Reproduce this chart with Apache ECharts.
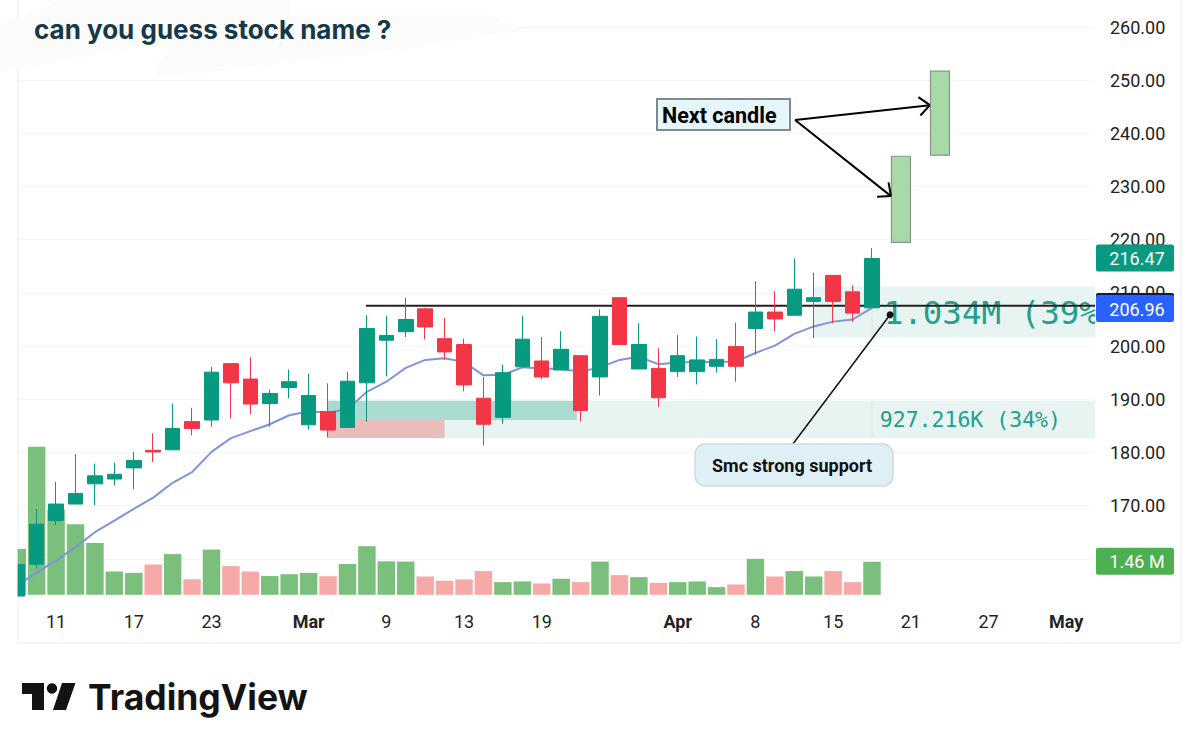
<!DOCTYPE html>
<html>
<head>
<meta charset="utf-8">
<title>can you guess stock name ?</title>
<style>
  html, body { margin: 0; padding: 0; background: #fff; }
  #chart { width: 1199px; height: 752px; }
</style>
<script src="https://cdn.jsdelivr.net/npm/echarts@6/dist/echarts.min.js"></script>
</head>
<body>
<div id="chart"></div>
<script>
// candles, one per trading day, index = position on the time scale
var opens = [153, 159, 167.2, 170.3, 174.1, 175, 177.1, 180.4, 180.5, 185.8, 186.1, 196.7, 193.8, 189.2, 192.2, 185.2, 187.7, 184.7, 193.1, 201.1, 202.7, 207, 201.4, 200.3, 190.2, 186.6, 196.1, 197.2, 195.5, 198.2, 194.2, 209.1, 195.7, 195.8, 195.2, 195.2, 196.2, 199.9, 203.3, 206.4, 205.8, 208.4, 213.3, 210.2, 207.2];
var closes = [158.9, 166.5, 170.3, 172.3, 175.6, 175.9, 178.5, 180.1, 184.5, 184.5, 195.1, 193.1, 189.1, 191.1, 193.3, 190.7, 184.2, 193.4, 203.3, 202, 205, 203.6, 198.9, 192.7, 185.3, 195, 201.3, 194.2, 199.4, 187.9, 205.6, 200.3, 200.3, 190.3, 198.2, 197.4, 197.5, 196.2, 206.4, 205.1, 210.7, 209.1, 208.4, 206.2, 216.47];
var lows = [153, 158.2, 166.3, 170.3, 170.1, 173.8, 173.1, 178.2, 180.5, 183.2, 184.8, 186.4, 187.2, 184.8, 190.2, 184.3, 182.8, 184.7, 185.8, 194.3, 201.7, 201.3, 197.4, 191.5, 181.3, 185.4, 196.1, 193.8, 195.5, 185.8, 190.7, 200.3, 195.7, 188.6, 194.2, 192.8, 195, 193.3, 198.4, 202.8, 205.8, 201.5, 204.3, 204.5, 207.2];
var highs = [158.9, 169.4, 174.5, 179.7, 177.9, 178.1, 180.1, 183.6, 189.2, 188.4, 196.1, 196.7, 197.9, 191.8, 195.6, 194.8, 193, 195.2, 205.8, 205.7, 209.1, 207.2, 205.3, 201.4, 194.2, 196.5, 205.7, 201.7, 202.8, 198.2, 206.9, 209.1, 204.3, 199.6, 202.1, 201.8, 201.3, 204.4, 212.2, 210.3, 216.5, 213.8, 213.3, 211.4, 218.4];
var volumes = [2.03, 6.54, 3.77, 3.12, 2.29, 1.03, 0.97, 1.34, 1.8, 0.69, 2, 1.27, 1.03, 0.83, 0.91, 0.97, 0.82, 1.36, 2.15, 1.48, 1.47, 0.81, 0.62, 0.68, 1.05, 0.56, 0.59, 0.5, 0.71, 0.56, 1.47, 0.87, 0.78, 0.53, 0.56, 0.59, 0.34, 0.46, 1.59, 0.81, 1.05, 0.81, 1.05, 0.56, 1.46];
var emaValues = [155, 157.4, 159.7, 162.2, 165, 167.2, 169.4, 171.5, 174.3, 176.3, 180.1, 182.7, 184, 185.3, 187, 187.7, 187.5, 188.1, 191.4, 193.3, 195.9, 197.4, 197.7, 197, 194.5, 194.6, 196, 195.8, 195.7, 195.2, 196, 197.4, 198, 196.6, 196.9, 197, 197, 197.1, 198.7, 200.1, 202.3, 203.7, 204.6, 205, 207.2];

// time scale labels
var tickIndices = [2, 6, 10, 15, 19, 23, 27, 34, 38, 42, 46, 50, 54];
var tickLabels = ['11', '17', '23', 'Mar', '9', '13', '19', 'Apr', '8', '15', '21', '27', 'May'];

// drawn annotations, in bar index / price
var zoneStart = [16, 41, 16, 16];
var zoneEnd = [55.48, 55.48, 28.8, 22];
var zoneLow = [182.7, 201.6, 186.1, 182.7];
var zoneHigh = [189.7, 211.2, 189.7, 186.1];
var zoneText = ['927.216K (34%)', '1.034M (39%)'];
var zoneTextX = [44.4, 44.6];
var zoneTextY = [186.2, 206.3];
var levelStart = 17.95;
var levelEnd = 55.48;
var levelPrice = 207.6;
var nextCandleX = [45.49, 47.5];
var nextCandleLow = [219.5, 235.9];
var nextCandleHigh = [235.7, 251.7];
var arrowStart = [40.04, 242.5];
var arrowTipX = [46.98, 44.98];
var arrowTipY = [245.3, 228.2];
var supportStart = [39.93, 181.6];
var supportEnd = [44.93, 205.9];
var priceTags = [216.47, 206.96];
var volumeTag = 1.46;

var GREEN = '#089981';
var RED = '#f23645';
var zoneColors = ['#e8f4f2', '#e8f4f2', '#a9dbd0', '#eabcbc'];
var tagColors = [GREEN, '#2962ff'];
var FONT = 'Roboto, sans-serif';
var MONO = '"DejaVu Sans Mono", monospace';

var candleData = opens.map(function(o, i) { return [i, o, closes[i], lows[i], highs[i]]; });
var volumeData = volumes.map(function(v, i) {
  return {
    value: [i, v],
    itemStyle: { color: closes[i] >= opens[i] ? '#7ac07c' : '#f7a9a7' }
  };
});

function tagShape(params, api, label, color, edge) {
  var grid = params.coordSys;
  var y = api.coord([0, label])[1];
  var children = [
    { type: 'rect', shape: { x: grid.x + grid.width + 1, y: y - 14, width: 78, height: 27, r: 2 }, style: { fill: color } },
    { type: 'text', x: grid.x + grid.width + 42, y: y, style: {
      text: label === volumeTag ? label.toFixed(2) + ' M' : label.toFixed(2),
      fill: '#fff', font: '18px ' + FONT, align: 'center', verticalAlign: 'middle'
    } }
  ];
  if (edge) {
    children.unshift({ type: 'rect', shape: { x: grid.x + grid.width + 1, y: y - 16, width: 78, height: 6, r: 2 }, style: { fill: edge } });
  }
  return { type: 'group', children: children };
}

var chart = echarts.init(document.getElementById('chart'), null, { renderer: 'svg' });
chart.setOption({
  animation: false,
  backgroundColor: '#fff',
  grid: { left: 18, right: 104, top: 27, height: 585, containLabel: false },
  xAxis: {
    type: 'value',
    min: 0.04,
    max: 55.48,
    splitLine: { show: false },
    axisLine: { show: false },
    axisTick: { show: false },
    axisLabel: {
      customValues: tickIndices,
      margin: 0,
      color: '#1f2329',
      fontFamily: FONT,
      fontSize: 18,
      formatter: function(value) {
        var label = tickLabels[tickIndices.indexOf(value)];
        return /[a-z]/.test(label) ? '{month|' + label + '}' : label;
      },
      rich: { month: { fontFamily: FONT, fontSize: 18, fontWeight: 'bold', color: '#1f2329' } }
    }
  },
  yAxis: [{
    type: 'value',
    position: 'right',
    min: 150,
    max: 260,
    interval: 10,
    axisLine: { show: false },
    axisTick: { show: false },
    splitLine: { showMinLine: false, lineStyle: { color: '#f5f6f7' } },
    axisLabel: {
      showMinLabel: false,
      margin: 15,
      color: '#222',
      fontFamily: FONT,
      fontSize: 18,
      formatter: function(value) { return value.toFixed(2); }
    }
  }, {
    type: 'value',
    show: false,
    min: -0.76,
    max: 25.1,
    splitLine: { show: false }
  }],
  series: [
    {
      type: 'bar',
      yAxisIndex: 1,
      data: volumeData,
      barWidth: 17.5,
      z: 1
    },
    {
      type: 'custom',
      clip: true,
      z: 2,
      data: zoneStart.map(function(s, i) { return [i]; }),
      renderItem: function(params, api) {
        var i = params.dataIndex;
        var a = api.coord([zoneStart[i], zoneHigh[i]]);
        var b = api.coord([zoneEnd[i], zoneLow[i]]);
        var children = [{
          type: 'rect',
          shape: { x: a[0], y: a[1], width: b[0] - a[0], height: b[1] - a[1] },
          style: { fill: zoneColors[i] }
        }];
        if (i < 2) {
          var divider = api.coord([44, 0])[0];
          children.push({
            type: 'line',
            shape: { x1: divider, y1: a[1], x2: divider, y2: b[1] },
            style: { stroke: '#d5e9e5', lineWidth: 1 }
          });
          var t = api.coord([zoneTextX[i], zoneTextY[i]]);
          children.push({
            type: 'text', x: t[0], y: t[1], z2: 5,
            style: {
              text: zoneText[i], fill: '#23a08b',
              font: (i === 0 ? 21.5 : 32.5) + 'px ' + MONO,
              verticalAlign: 'middle'
            }
          });
        }
        return { type: 'group', children: children };
      }
    },
    {
      type: 'custom',
      clip: true,
      z: 3,
      data: [[levelStart, levelPrice]],
      renderItem: function(params, api) {
        var a = api.coord([levelStart, levelPrice]);
        var b = api.coord([levelEnd, levelPrice]);
        return { type: 'line', shape: { x1: a[0], y1: a[1], x2: b[0], y2: b[1] }, style: { stroke: '#222', lineWidth: 2 } };
      }
    },
    {
      type: 'line',
      data: emaValues.map(function(v, i) { return [i, v]; }),
      showSymbol: false,
      lineStyle: { color: '#7f95d8', width: 2 },
      z: 4
    },
    {
      type: 'candlestick',
      data: candleData,
      encode: { x: 0, y: [1, 2, 3, 4] },
      barWidth: 15,
      itemStyle: { color: GREEN, color0: RED, borderColor: GREEN, borderColor0: RED, borderWidth: 1 },
      z: 5
    },
    {
      type: 'custom',
      z: 6,
      data: nextCandleX.map(function(x, i) { return [x, nextCandleLow[i], nextCandleHigh[i]]; }),
      renderItem: function(params, api) {
        var a = api.coord([api.value(0), api.value(2)]);
        var b = api.coord([api.value(0), api.value(1)]);
        return {
          type: 'rect',
          shape: { x: a[0] - 9.5, y: a[1], width: 19, height: b[1] - a[1] },
          style: { fill: '#a9d8a9', stroke: '#84958a', lineWidth: 1.2 }
        };
      }
    },
    {
      type: 'custom',
      z: 7,
      data: arrowTipX.map(function(x, i) { return [x, arrowTipY[i]]; }),
      renderItem: function(params, api) {
        var from = api.coord(arrowStart);
        var tip = api.coord([api.value(0), api.value(1)]);
        var angle = Math.atan2(tip[1] - from[1], tip[0] - from[0]);
        var style = { stroke: '#000', lineWidth: 2 };
        var heads = [0.72, -0.72].map(function(d) {
          return {
            type: 'line',
            shape: { x1: tip[0], y1: tip[1], x2: tip[0] - 14 * Math.cos(angle + d), y2: tip[1] - 14 * Math.sin(angle + d) },
            style: style
          };
        });
        return {
          type: 'group',
          children: [{ type: 'line', shape: { x1: from[0], y1: from[1], x2: tip[0], y2: tip[1] }, style: style }].concat(heads)
        };
      }
    },
    {
      type: 'custom',
      z: 7,
      data: [supportEnd],
      renderItem: function(params, api) {
        var from = api.coord(supportStart);
        var to = api.coord(supportEnd);
        return {
          type: 'group',
          children: [
            { type: 'line', shape: { x1: from[0], y1: from[1], x2: to[0], y2: to[1] }, style: { stroke: '#111', lineWidth: 1.5 } },
            { type: 'circle', shape: { cx: to[0], cy: to[1], r: 3.5 }, style: { fill: '#111' } }
          ]
        };
      }
    },
    {
      type: 'custom',
      z: 8,
      clip: false,
      data: priceTags.map(function(p) { return [p]; }),
      renderItem: function(params, api) {
        var i = params.dataIndex;
        return tagShape(params, api, priceTags[i], tagColors[i], i === 1 ? '#0b1a4a' : null);
      }
    },
    {
      type: 'custom',
      z: 8,
      clip: false,
      yAxisIndex: 1,
      data: [[volumeTag]],
      renderItem: function(params, api) {
        return tagShape(params, api, volumeTag, '#4caf50', null);
      }
    }
  ],
  graphic: [
    // chart frame
    { type: 'line', z: -1, silent: true, shape: { x1: 18, y1: 0, x2: 18, y2: 643 }, style: { stroke: '#f1f2f3', lineWidth: 1.5 } },
    { type: 'line', z: -1, silent: true, shape: { x1: 18, y1: 643, x2: 1181, y2: 643 }, style: { stroke: '#f1f2f3', lineWidth: 1.5 } },
    { type: 'line', z: -1, silent: true, shape: { x1: 1181, y1: 0, x2: 1181, y2: 643 }, style: { stroke: '#f1f2f3', lineWidth: 1.5 } },
    // first bar is cut by the chart's left edge
    { type: 'rect', z: 9, silent: true, shape: { x: 0, y: 530, width: 17.5, height: 80 }, style: { fill: '#fff' } },
    // smear behind the title
    { type: 'polygon', z: 20, silent: true, shape: { points: [[0, 25], [60, 0], [290, 0], [290, 20], [120, 50], [0, 72]] }, style: { fill: '#fcfcfc' } },
    { type: 'polygon', z: 20, silent: true, shape: { points: [[155, 70], [170, 40], [300, 15], [490, 15], [525, 30], [400, 50], [160, 78]] }, style: { fill: '#fcfcfc' } },
    { type: 'text', z: 21, x: 34, y: 29, style: { text: 'can you guess stock name ?', fill: '#16394a', font: 'bold 26px Inter, sans-serif', verticalAlign: 'middle' } },
    // callouts
    { type: 'rect', z: 21, shape: { x: 657, y: 99, width: 133, height: 31 }, style: { fill: '#e6f6fb', stroke: '#7f8a8c', lineWidth: 2 } },
    { type: 'text', z: 22, x: 662, y: 115, style: { text: 'Next candle', fill: '#000', font: 'bold 21.5px ' + FONT, verticalAlign: 'middle' } },
    { type: 'rect', z: 21, shape: { x: 695, y: 444, width: 198, height: 42, r: 10 }, style: { fill: '#def0f5', stroke: '#cfdcdf', lineWidth: 1.5 } },
    { type: 'text', z: 22, x: 712, y: 465, style: { text: 'Smc strong support', fill: '#111', font: 'bold 18px ' + FONT, verticalAlign: 'middle' } },
    // logo
    { type: 'polygon', z: 21, shape: { points: [[22, 683], [44, 683], [44, 710], [32, 710], [32, 694], [22, 694]] }, style: { fill: '#131313' } },
    { type: 'circle', z: 21, shape: { cx: 52, cy: 688.5, r: 5.2 }, style: { fill: '#131313' } },
    { type: 'polygon', z: 21, shape: { points: [[62, 683], [75.5, 683], [66, 710], [53, 710]] }, style: { fill: '#131313' } },
    { type: 'text', z: 21, x: 88, y: 697, style: { text: 'TradingView', fill: '#131313', font: 'bold 35.5px Inter, sans-serif', verticalAlign: 'middle' } }
  ]
});
window.addEventListener('resize', function() { chart.resize(); });
</script>
</body>
</html>
